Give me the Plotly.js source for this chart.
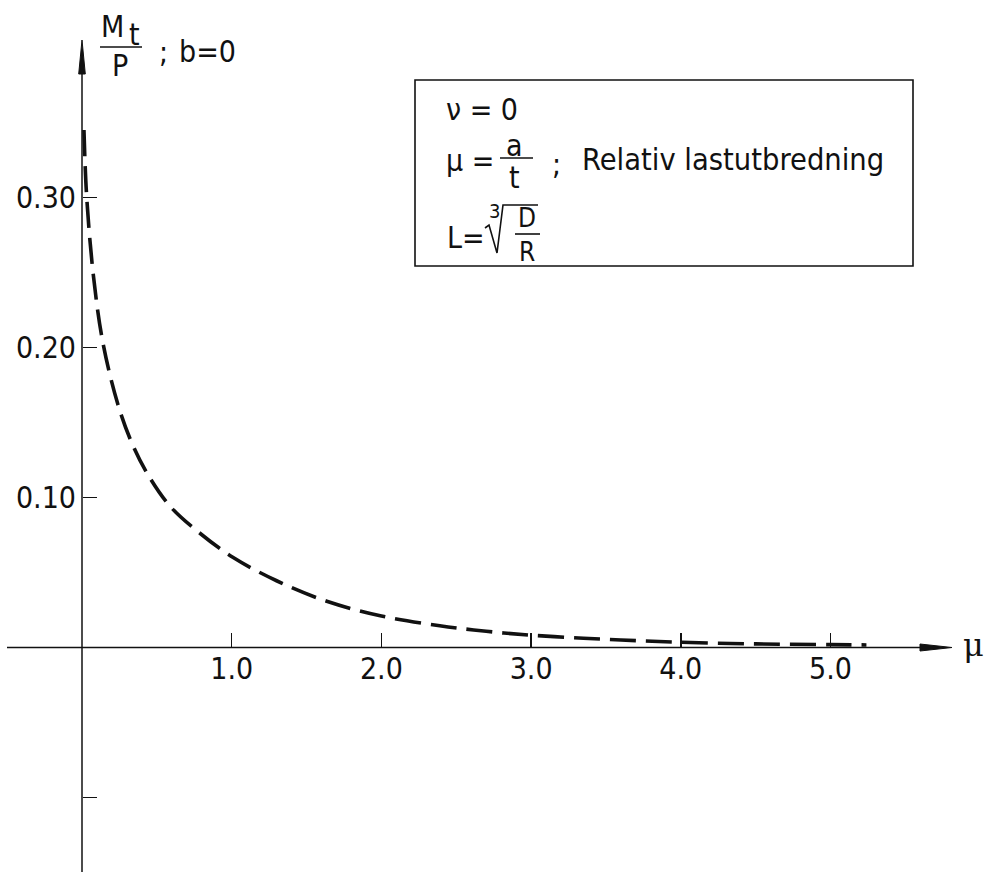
<!DOCTYPE html>
<html>
<head>
<meta charset="utf-8">
<script src="https://cdn.plot.ly/plotly-3.0.1.min.js"></script>
<style>
  html, body { margin: 0; padding: 0; background: #fff; }
  #chart { width: 991px; height: 872px; }
</style>
</head>
<body>
<div id="chart"></div>
<script>
// Relative load spread mu = a/t and the moment ratio Mt/P (b = 0, nu = 0)
const mu = [0.013, 0.031, 0.076, 0.14, 0.24, 0.33, 0.43, 0.59, 0.79, 1.01,
            1.30, 1.63, 2.0, 2.39, 2.7, 3.0, 3.35, 3.6, 4.0, 4.5, 5.0, 5.24];
const mtOverP = [0.345, 0.301, 0.248, 0.203, 0.162, 0.137, 0.117, 0.094, 0.076, 0.060,
                 0.0445, 0.031, 0.021, 0.0145, 0.0108, 0.0082, 0.0062, 0.0050, 0.0035,
                 0.0024, 0.0019, 0.0017];

const xTickVals = [1, 2, 3, 4, 5];
const xTickText = ['1.0', '2.0', '3.0', '4.0', '5.0'];
const yTickVals = [-0.1, 0.1, 0.2, 0.3];
const yTickText = ['', '0.10', '0.20', '0.30'];

// page geometry (pixels)
const W = 991, H = 872;
const X0 = 82, PX_PER_X = 149.7;   // origin column and pixels per unit of mu
const Y0 = 647.5, PX_PER_Y = 1500; // origin row and pixels per unit of Mt/P

const xRange = [-X0 / PX_PER_X, (W - X0) / PX_PER_X];
const yRange = [-(H - Y0) / PX_PER_Y, Y0 / PX_PER_Y];

const FONT = '"DejaVu Sans Condensed", "Liberation Sans Narrow", sans-serif';
const INK = '#111';

// pixel -> data / paper helpers
const dx = p => (p - X0) / PX_PER_X;
const dy = p => (Y0 - p) / PX_PER_Y;
const px = p => p / W;
const py = p => 1 - p / H;

function label(x, y, text, size, xanchor, extra) {
  return Object.assign({
    xref: 'paper', yref: 'paper', x: px(x), y: py(y),
    text: text, showarrow: false, xanchor: xanchor || 'center', yanchor: 'middle',
    font: { family: FONT, size: size || 30, color: INK }
  }, extra || {});
}

function seg(x0, y0, x1, y1, w) {
  return { type: 'line', xref: 'paper', yref: 'paper',
           x0: px(x0), y0: py(y0), x1: px(x1), y1: py(y1),
           line: { color: INK, width: w || 1.5 } };
}

const trace = {
  x: mu, y: mtOverP, type: 'scatter', mode: 'lines',
  line: { color: INK, width: 3.6, dash: '26px,10px', shape: 'spline', smoothing: 1 },
  hoverinfo: 'skip'
};

const shapes = [
  // horizontal axis
  { type: 'line', xref: 'x', yref: 'y', x0: dx(7), y0: 0, x1: dx(925), y1: 0,
    line: { color: INK, width: 1.5 } },
  { type: 'path', xref: 'x', yref: 'y',
    path: `M ${dx(952)} 0 L ${dx(920)} ${3.5 / PX_PER_Y} L ${dx(920)} ${-3.5 / PX_PER_Y} Z`,
    fillcolor: INK, line: { color: INK, width: 1 } },
  // vertical axis
  { type: 'line', xref: 'x', yref: 'y', x0: 0, y0: dy(872), x1: 0, y1: dy(70),
    line: { color: INK, width: 1.5 } },
  { type: 'path', xref: 'x', yref: 'y',
    path: `M 0 ${dy(40)} L ${3.3 / PX_PER_X} ${dy(74)} L ${-3.3 / PX_PER_X} ${dy(74)} Z`,
    fillcolor: INK, line: { color: INK, width: 1 } },
  // fraction bar of Mt / P
  seg(100, 47, 142, 47, 1.6),
  // legend frame
  { type: 'rect', xref: 'paper', yref: 'paper',
    x0: px(415), y0: py(266), x1: px(913), y1: py(80),
    line: { color: INK, width: 1.6 }, fillcolor: 'rgba(0,0,0,0)' },
  // fraction bar of a / t
  seg(500, 158, 533, 158, 1.6),
  // cube root sign over D / R
  { type: 'path', xref: 'paper', yref: 'paper',
    path: `M ${px(485)} ${py(228)} L ${px(489)} ${py(225)} L ${px(497)} ${py(253)} L ${px(503)} ${py(205)} L ${px(538)} ${py(205)}`,
    line: { color: INK, width: 1.6 } },
  seg(515, 234, 540, 234, 1.6)
];

const annotations = [
  // vertical axis title: Mt / P ; b = 0
  label(112.5, 26.5, 'M', 30),
  label(134, 34.5, 't', 30),
  label(120, 65.5, 'P', 30),
  label(163, 51.5, ';', 30),
  label(207, 51.5, 'b=0', 30),
  // horizontal axis title
  label(973, 645, 'μ', 32, 'center', { font: { family: 'DejaVu Serif, serif', size: 32, color: INK } }),
  // legend text
  label(444, 109.5, 'ν = 0', 30, 'left'),
  label(444, 160.5, 'μ =', 30, 'left'),
  label(514, 145.5, 'a', 30),
  label(514, 177.5, 't', 30),
  label(556, 164, ';', 30),
  label(580, 159.5, 'Relativ lastutbredning', 30.5, 'left'),
  label(445, 237.5, 'L=', 30, 'left'),
  label(494, 211, '3', 20),
  label(527, 235, 'D<br>R', 26)
];

const layout = {
  width: W, height: H, autosize: false,
  margin: { l: 0, r: 0, t: 0, b: 0, pad: 0 },
  paper_bgcolor: '#fff', plot_bgcolor: '#fff',
  showlegend: false,
  font: { family: FONT, size: 30, color: INK },
  xaxis: {
    range: xRange, anchor: 'free', position: py(Y0), side: 'bottom',
    showgrid: false, zeroline: false, showline: false,
    tickmode: 'array', tickvals: xTickVals, ticktext: xTickText,
    ticks: 'inside', ticklen: 15, tickwidth: 1.5, tickcolor: INK,
    ticklabelstandoff: 0,
    tickfont: { family: FONT, size: 30, color: INK }, fixedrange: true
  },
  yaxis: {
    range: yRange, anchor: 'free', position: px(X0), side: 'left',
    showgrid: false, zeroline: false, showline: false,
    tickmode: 'array', tickvals: yTickVals, ticktext: yTickText,
    ticks: 'inside', ticklen: 14, tickwidth: 1.5, tickcolor: INK,
    ticklabelstandoff: 6,
    tickfont: { family: FONT, size: 30, color: INK }, fixedrange: true
  },
  shapes: shapes,
  annotations: annotations
};

Plotly.newPlot('chart', [trace], layout, { staticPlot: true, displayModeBar: false });
</script>
</body>
</html>
